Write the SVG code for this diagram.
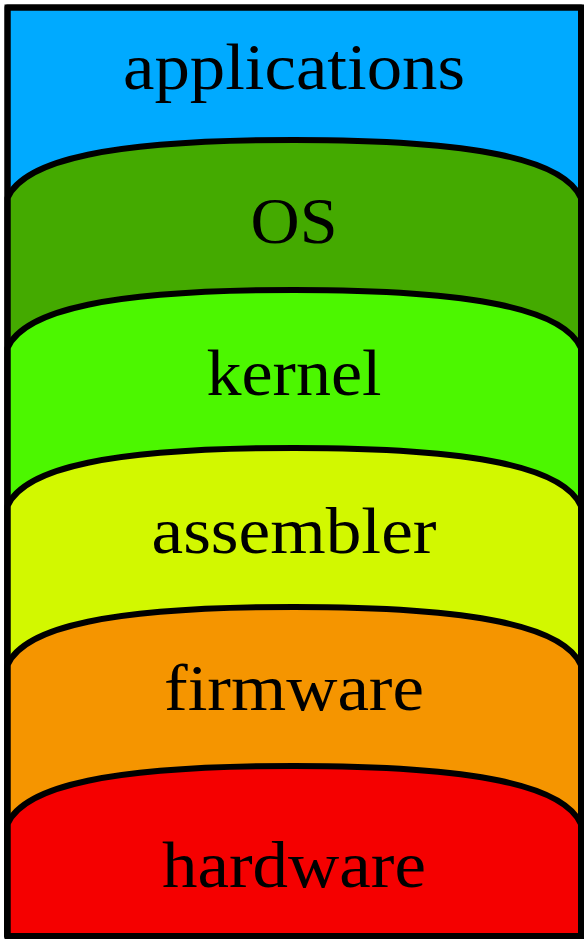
<svg xmlns="http://www.w3.org/2000/svg" width="588" height="942" viewBox="0 0 588 942">
<style>
.layer{stroke:#000;stroke-width:6;stroke-linejoin:round}
.lbl{font-family:"Liberation Serif","Times New Roman",serif;font-size:66px;fill:#000;text-anchor:middle}
</style>
<rect width="588" height="942" fill="#fff"/>
<g id="applications">
<rect class="layer" x="7.5" y="7.5" width="573.5" height="928.5" fill="#00aaff"/>
<text class="lbl" x="294" y="89" textLength="342" lengthAdjust="spacingAndGlyphs">applications</text>
</g>
<g id="os">
<path class="layer" fill="#44aa00" d="M7.5,198 C24,160 110,140 294,140 C478,140 564,160 581,198 L581,936 L7.5,936 Z"/>
<text class="lbl" x="294" y="243" textLength="87" lengthAdjust="spacingAndGlyphs">OS</text>
</g>
<g id="kernel">
<path class="layer" fill="#4cf700" d="M7.5,348 C24,310 110,290 294,290 C478,290 564,310 581,348 L581,936 L7.5,936 Z"/>
<text class="lbl" x="294" y="395" textLength="175" lengthAdjust="spacingAndGlyphs">kernel</text>
</g>
<g id="assembler">
<path class="layer" fill="#d2f800" d="M7.5,506 C24,468 110,448 294,448 C478,448 564,468 581,506 L581,936 L7.5,936 Z"/>
<text class="lbl" x="294" y="553" textLength="285" lengthAdjust="spacingAndGlyphs">assembler</text>
</g>
<g id="firmware">
<path class="layer" fill="#f59500" d="M7.5,665 C24,627 110,607 294,607 C478,607 564,627 581,665 L581,936 L7.5,936 Z"/>
<text class="lbl" x="294" y="710" textLength="260" lengthAdjust="spacingAndGlyphs">firmware</text>
</g>
<g id="hardware">
<path class="layer" fill="#f50000" d="M7.5,824 C24,786 110,766 294,766 C478,766 564,786 581,824 L581,936 L7.5,936 Z"/>
<text class="lbl" x="294" y="887" textLength="264" lengthAdjust="spacingAndGlyphs">hardware</text>
</g>
<g id="connectors"/>
<rect x="7.5" y="7.5" width="573.5" height="928.5" fill="none" stroke="#000" stroke-width="6"/>
</svg>
